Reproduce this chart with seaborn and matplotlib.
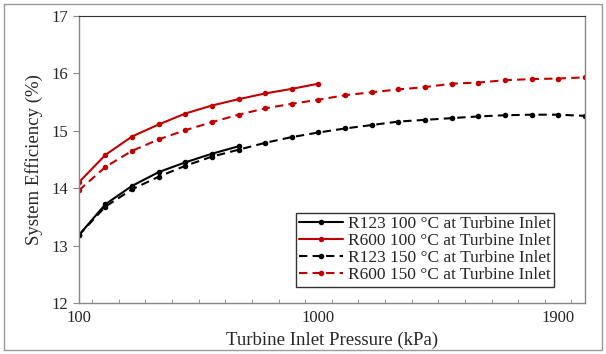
import numpy as np
import pandas as pd
import matplotlib.pyplot as plt
import seaborn as sns
from matplotlib.patches import Rectangle

# Data
pressure = list(range(100, 2100, 100))
r123_100 = [13.18, 13.72, 14.04, 14.28, 14.45, 14.60, 14.73]
r600_100 = [14.10, 14.58, 14.90, 15.11, 15.30, 15.44, 15.55, 15.65, 15.73, 15.82]
r123_150 = [13.18, 13.68, 13.98, 14.20, 14.39, 14.55, 14.67, 14.79, 14.89, 14.97,
            15.04, 15.10, 15.16, 15.19, 15.22, 15.25, 15.27, 15.28, 15.28, 15.26]
r600_150 = [13.96, 14.37, 14.65, 14.85, 15.01, 15.15, 15.28, 15.39, 15.47, 15.54,
            15.62, 15.67, 15.72, 15.76, 15.82, 15.84, 15.88, 15.90, 15.91, 15.93]

labels = ["R123 100 °C at Turbine Inlet", "R600 100 °C at Turbine Inlet",
          "R123 150 °C at Turbine Inlet", "R600 150 °C at Turbine Inlet"]
series = [r123_100, r600_100, r123_150, r600_150]

rows = []
for lab, vals in zip(labels, series):
    for p, v in zip(pressure, vals):
        rows.append({"Pressure": p, "Efficiency": v, "Series": lab})
df = pd.DataFrame(rows)

sns.set_style("white")
plt.rcParams['font.family'] = ['Liberation Serif', 'DejaVu Serif']

fig = plt.figure(figsize=(6.06, 3.54), dpi=100)
ax = fig.add_axes([0.130, 0.144, 0.835, 0.811])

palette = {labels[0]: "black", labels[1]: "#C00000", labels[2]: "black", labels[3]: "#C00000"}
dashes = {labels[0]: "", labels[1]: "", labels[2]: (4, 2.5), labels[3]: (4, 2.5)}
sns.lineplot(data=df, x="Pressure", y="Efficiency", hue="Series", style="Series",
             hue_order=labels, style_order=labels, palette=palette, dashes=dashes,
             markers={l: "o" for l in labels}, markersize=4, markeredgewidth=0,
             linewidth=1.5, ax=ax)

ax.set_xlim(100, 2000)
ax.set_ylim(12, 17)
ax.set_xticks([100, 1000, 1900])
ax.set_xticks(np.arange(150, 2000, 100), minor=True)
ax.set_yticks(range(12, 18))
ax.tick_params(axis='x', which='major', length=0, labelsize=12, pad=5)
ax.tick_params(axis='x', which='minor', direction='in', length=3, color='#888888', bottom=True)
ax.tick_params(axis='y', which='major', direction='out', length=4, color='#888888', labelsize=12, left=True)

ax.set_xlabel("Turbine Inlet Pressure (kPa)", fontsize=13.5, labelpad=4)
ax.set_ylabel("System Efficiency (%)", fontsize=13.5, labelpad=6)

for s in ['left', 'bottom', 'right']:
    ax.spines[s].set_color('#888888')
    ax.spines[s].set_linewidth(1.0)
ax.spines['top'].set_color('#333333')
ax.spines['top'].set_linewidth(0.8)

leg = ax.legend(loc='lower right', bbox_to_anchor=(0.94, 0.056), fontsize=12.5,
                frameon=True, fancybox=False, handlelength=2.5, handletextpad=0.3,
                labelspacing=0.05, borderpad=0.2, borderaxespad=0)
leg.get_frame().set_edgecolor('black')
leg.get_frame().set_linewidth(1.0)

fig.patches.append(Rectangle((0.006, 0.01), 0.988, 0.98, transform=fig.transFigure,
                             fill=False, edgecolor='#999999', linewidth=1.0))

fig.savefig("out.png", dpi=100)
